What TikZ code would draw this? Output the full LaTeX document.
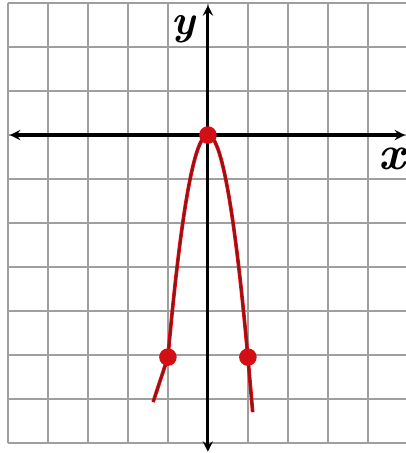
\documentclass[tikz,border=0pt]{standalone}
\usepackage{tikz}
\definecolor{curvered}{RGB}{135,25,30}
\definecolor{dotred}{RGB}{210,15,20}

\begin{document}
\begin{tikzpicture}[x=1cm,y=1.1cm,>=stealth]
  \useasboundingbox (-5.2,-7.23) rectangle (4.95,3.07);
  \fill[white] (-5.2,-7.23) rectangle (4.95,3.07);
  \draw[gray!75,line width=1.1pt,xstep=1cm,ystep=1.1cm] (-5,-7) grid (5,3);
  \draw[<->,line width=2.2pt] (-4.95,0) -- (4.93,0);
  \draw[<->,line width=2.2pt] (0,-7.2) -- (0,2.95);
  \node[inner sep=0pt] (ylab) at (-0.62,2.4) {\fontsize{30}{30}\selectfont\bfseries\itshape y};
  \node[inner sep=0pt] (xlab) at (4.6,-0.55) {\fontsize{34}{34}\selectfont\bfseries\itshape x};
  \coordinate (Aend) at (-1.37,-6.07);
  \coordinate (Bend) at (1.12,-6.3);
  \draw[red,line width=2.6pt] (Aend) -- (-1,-5.05) plot[domain=-1:1,samples=60] (\x,{-5.05*\x*\x}) -- (Bend);
  \draw[curvered,line width=1.6pt] (Aend) -- (-1,-5.05) plot[domain=-1:1,samples=60] (\x,{-5.05*\x*\x}) -- (Bend);
  \node[circle,fill=dotred,inner sep=0pt,minimum size=0.44cm] (O) at (0,0) {};
  \node[circle,fill=dotred,inner sep=0pt,minimum size=0.44cm] (A) at (-1,-5.05) {};
  \node[circle,fill=dotred,inner sep=0pt,minimum size=0.44cm] (B) at (1,-5.05) {};
\end{tikzpicture}
\end{document}
